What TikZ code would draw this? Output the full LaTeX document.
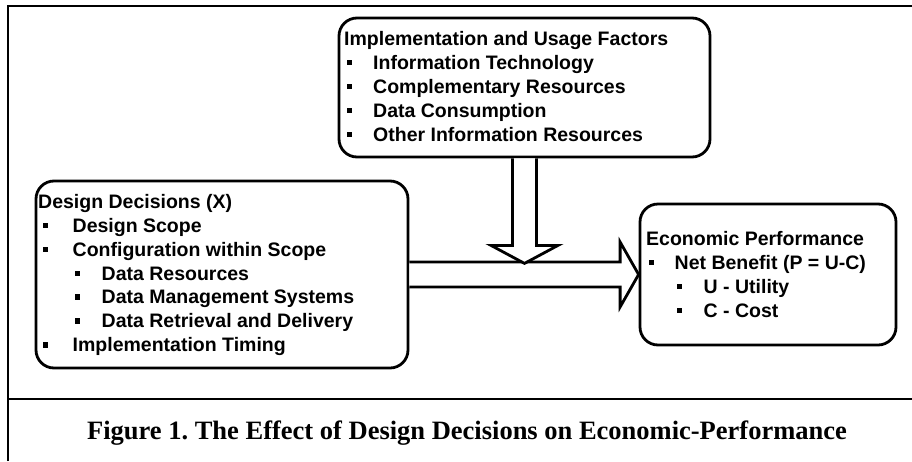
\documentclass[tikz,border=0pt]{standalone}
\usepackage{fontspec}
\setmainfont{Liberation Sans}
\newfontfamily\capfont{Liberation Serif}
\usetikzlibrary{calc}
\frenchspacing
\newcommand\bsq[2]{\fill (#1,#2-9.5) rectangle ++(5,5.5);}
\begin{document}
\begin{tikzpicture}[x=1pt,y=-1pt,
  box/.style={draw, line width=2.8pt, rounded corners=18pt, fill=white, inner sep=0pt},
  txt/.style={anchor=base west, inner sep=0pt, font=\fontsize{19.5}{23.9}\selectfont\bfseries},
  fat/.style={draw, line width=2.8pt, fill=white, line join=miter},
  frameline/.style={line width=2pt}]
\useasboundingbox (0,0) rectangle (912,461);
% frame
\draw[frameline] (8,461) -- (8,6) -- (912,6);
\draw[frameline] (8,399) -- (912,399);
% boxes
\node[box, minimum width=371pt, minimum height=139pt] (T) at (524.5,87.5) {};
\node[box, minimum width=372pt, minimum height=187pt] (L) at (222,274.5) {};
\node[box, minimum width=256pt, minimum height=141pt] (R) at (768,274.5) {};
% horizontal fat arrow
\draw[fat] ($(L.east)+(0,-12.5)$) -- ($(R.west)+(-18.5,-12.5)$) -- ($(R.west)+(-18.5,-32.5)$)
  -- (R.west) -- ($(R.west)+(-18.5,32.5)$) -- ($(R.west)+(-18.5,12.5)$) -- ($(L.east)+(0,12.5)$);
% vertical fat arrow
\draw[fat] ($(T.south)+(-12,0)$) -- ($(T.south)+(-12,87)$) -- ($(T.south)+(-33.5,87)$)
  -- ($(T.south)+(0,105)$) -- ($(T.south)+(33.5,87)$) -- ($(T.south)+(12,87)$) -- ($(T.south)+(12,0)$);
% top box text
\node[txt] (t0) at (344,45.5) {Implementation and Usage Factors};
\bsq{347}{69.4}\node[txt] (t1) at (373,69.4) {Information Technology};
\bsq{347}{93.3}\node[txt] (t2) at (373,93.3) {Complementary Resources};
\bsq{347}{117.2}\node[txt] (t3) at (373,117.2) {Data Consumption};
\bsq{347}{141.1}\node[txt] (t4) at (373,141.1) {Other Information Resources};
% left box text
\node[txt] (l0) at (38,208.3) {Design Decisions (X)};
\bsq{43}{232.2}\node[txt] (l1) at (72.5,232.2) {Design Scope};
\bsq{43}{256.1}\node[txt] (l2) at (72.5,256.1) {Configuration within Scope};
\bsq{75}{280}\node[txt] (l3) at (101.5,280) {Data Resources};
\bsq{75}{303.9}\node[txt] (l4) at (101.5,303.9) {Data Management Systems};
\bsq{75}{327.8}\node[txt] (l5) at (101.5,327.8) {Data Retrieval and Delivery};
\bsq{43}{351.7}\node[txt] (l6) at (72.5,351.7) {Implementation Timing};
% right box text
\node[txt] (r0) at (646,245.3) {Economic Performance};
\bsq{649}{269.2}\node[txt] (r1) at (674.5,269.2) {Net Benefit (P = U-C)};
\bsq{677}{293.1}\node[txt] (r2) at (703.5,293.1) {U - Utility};
\bsq{677}{317}\node[txt] (r3) at (703.5,317) {C - Cost};
% caption
\node[anchor=base, inner sep=0pt, font=\capfont\bfseries\fontsize{26.5}{30}\selectfont] (cap) at (467,439) {Figure 1. The Effect of Design Decisions on Economic-Performance};
\end{tikzpicture}
\end{document}
